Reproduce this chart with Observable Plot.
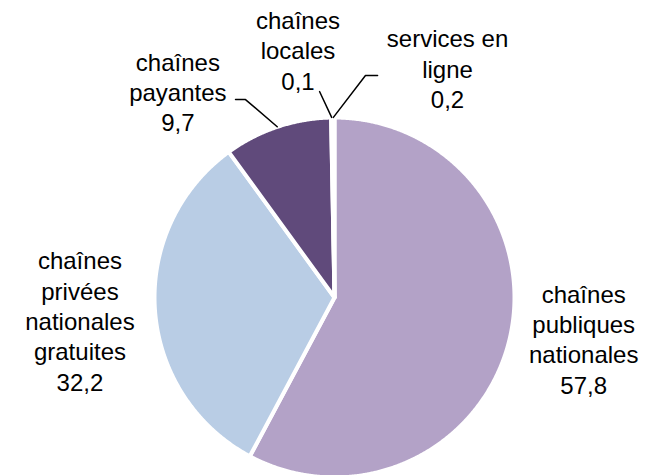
<!DOCTYPE html>
<html>
<head>
<meta charset="utf-8">
<script src="https://cdn.jsdelivr.net/npm/d3@7"></script>
<script src="https://cdn.jsdelivr.net/npm/@observablehq/plot@0.6"></script>
<style>
  html, body { margin: 0; padding: 0; background: #fff; }
  #chart svg { display: block; }
</style>
</head>
<body>
<div id="chart"></div>
<script>
// ---- data ----
const categories = [
  "chaînes publiques nationales",
  "chaînes privées nationales gratuites",
  "chaînes payantes",
  "chaînes locales",
  "services en ligne"
];
const labelLines = [
  "chaînes\npubliques\nnationales",
  "chaînes\nprivées\nnationales\ngratuites",
  "chaînes\npayantes",
  "chaînes\nlocales",
  "services en\nligne"
];
const values = [57.8, 32.2, 9.7, 0.1, 0.2];
const colors = ["#B3A2C7", "#B9CDE5", "#604A7B", "#403152", "#8064A2"];

// ---- layout (pie units: 1 = visible radius) ----
const labelPos = [
  [1.40, -0.23],
  [-1.43, -0.128],
  [-0.88, 1.158],
  [-0.205, 1.392],
  [0.635, 1.29]
];
// leader line elbows (label side), null = no leader
const leaderPts = [
  null,
  null,
  [[-0.556, 1.112], [-0.50, 1.112]],
  [[-0.084, 1.157]],
  [[0.242, 1.247], [0.174, 1.247]]
];

const W = 646, H = 475, CX = 334, CY = 297, RPX = 178;
const outer = 180 / RPX;

const arcs = d3.pie().sort(null).value(d => d)(values);

const wedgePts = [];
arcs.forEach((a, i) => {
  wedgePts.push({cat: categories[i], x: 0, y: 0});
  const n = Math.max(2, Math.ceil((a.endAngle - a.startAngle) / 0.005));
  for (let k = 0; k <= n; k++) {
    const t = a.startAngle + (a.endAngle - a.startAngle) * k / n;
    wedgePts.push({cat: categories[i], x: outer * Math.sin(t), y: outer * Math.cos(t)});
  }
  wedgePts.push({cat: categories[i], x: 0, y: 0});
});

const labels = categories.map((c, i) => ({
  cat: c,
  x: labelPos[i][0],
  y: labelPos[i][1],
  text: labelLines[i] + "\n" + String(values[i]).replace(".", ",")
}));

const leaders = [];
arcs.forEach((a, i) => {
  if (!leaderPts[i]) return;
  leaderPts[i].forEach(p => leaders.push({cat: categories[i], x: p[0], y: p[1]}));
  const m = (a.startAngle + a.endAngle) / 2;
  leaders.push({cat: categories[i], x: 1.012 * Math.sin(m), y: 1.012 * Math.cos(m)});
});

const chart = Plot.plot({
  width: W,
  height: H,
  margin: 0,
  x: {domain: [-CX / RPX, (W - CX) / RPX], axis: null},
  y: {domain: [-(H - CY) / RPX, CY / RPX], axis: null},
  color: {domain: categories, range: colors},
  marks: [
    Plot.line(wedgePts, {
      x: "x", y: "y", z: "cat", fill: "cat",
      stroke: "white", strokeWidth: 4, strokeLinejoin: "round"
    }),
    Plot.line(leaders, {
      x: "x", y: "y", z: "cat", stroke: "black", strokeWidth: 1.5
    }),
    Plot.text(labels, {
      x: "x", y: "y", text: "text",
      fontSize: 24, lineHeight: 1.265, lineAnchor: "middle",
      fontFamily: "'Liberation Sans', Arial, sans-serif",
      fill: "black"
    })
  ]
});
document.getElementById("chart").appendChild(chart);
</script>
</body>
</html>
